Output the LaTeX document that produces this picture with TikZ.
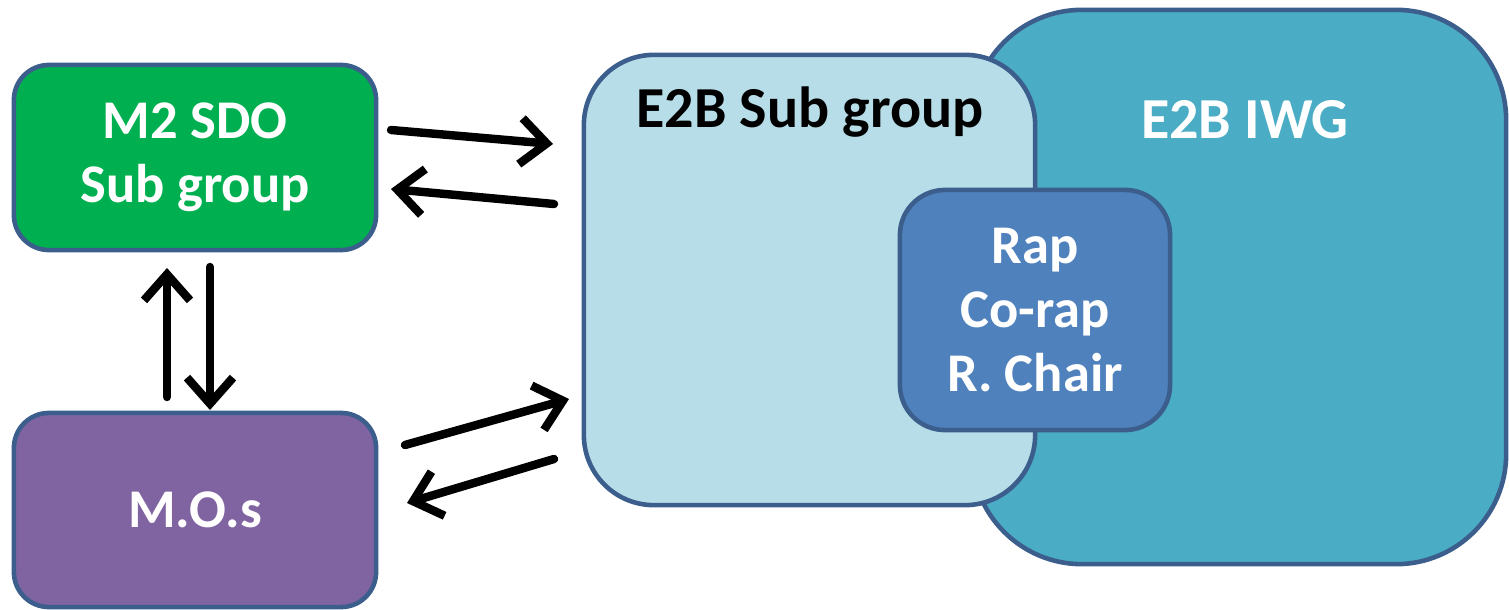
\documentclass[tikz,border=0pt]{standalone}
\usepackage{fontspec}
\setmainfont{Carlito}
\usetikzlibrary{positioning,arrows.meta}

\definecolor{edgeblue}{HTML}{3B5E8C}
\definecolor{sdogreen}{HTML}{00B050}
\definecolor{mopurple}{HTML}{8064A2}
\definecolor{iwgteal}{HTML}{4BACC6}
\definecolor{subblue}{HTML}{B7DEE8}
\definecolor{rapblue}{HTML}{4F81BD}

\begin{document}
\begin{tikzpicture}[
    x=0.01cm, y=-0.01cm,
    grp/.style={rectangle, draw=edgeblue, line width=1.3pt, text=white, align=center,
        font=\bfseries\fontsize{15.5}{18.3}\selectfont},
    title/.style={font=\bfseries\fontsize{16.5}{19}\selectfont},
    flow/.style={-{Straight Barb[length=0.26cm, width=0.46cm]}, line width=2.4pt,
        line cap=round, line join=round}
]
    \useasboundingbox (0,0) rectangle (1509,609);

    % Working groups (back to front)
    \node[grp, fill=iwgteal, minimum width=5.34cm, minimum height=5.54cm,
          rounded corners=1.1cm] (iwg) at (1239,287) {};
    \node[grp, fill=subblue, minimum width=4.51cm, minimum height=4.5cm,
          rounded corners=0.7cm] (sub) at (809.5,280) {};
    \node[grp, fill=rapblue, minimum width=2.7cm, minimum height=2.4cm,
          rounded corners=0.45cm] (rap) at (1035,310) {Rap\\Co-rap\\R. Chair};
    \node[title, text=white] (iwgname) at (1245,120) {E2B IWG};
    \node[title] (subname) at (810,112) {E2B Sub group};

    % Outside parties
    \node[grp, fill=sdogreen, minimum width=3.62cm, minimum height=1.85cm,
          rounded corners=0.35cm] (sdo) at (195,157.5) {M2 SDO\\Sub group};
    \node[grp, fill=mopurple, minimum width=3.62cm, minimum height=1.94cm,
          rounded corners=0.35cm] (mos) at (195,510) {M.O.s};

    % Arrow ends
    \coordinate (a1) at (391,130);
    \coordinate (b1) at (553,144);
    \coordinate (a2) at (554,204);
    \coordinate (b2) at (391,189);
    \coordinate (a3) at (405,445);
    \coordinate (b3) at (569,399);
    \coordinate (a4) at (554,459);
    \coordinate (b4) at (407,503);
    \coordinate (a5) at (167,397);
    \coordinate (b5) at (167,268);
    \coordinate (a6) at (210,267);
    \coordinate (b6) at (210,410);

    % Exchanges
    \draw[flow] (a1) -- (b1);
    \draw[flow] (a2) -- (b2);
    \draw[flow] (a3) -- (b3);
    \draw[flow] (a4) -- (b4);
    \draw[flow] (a5) -- (b5);
    \draw[flow] (a6) -- (b6);
\end{tikzpicture}
\end{document}
